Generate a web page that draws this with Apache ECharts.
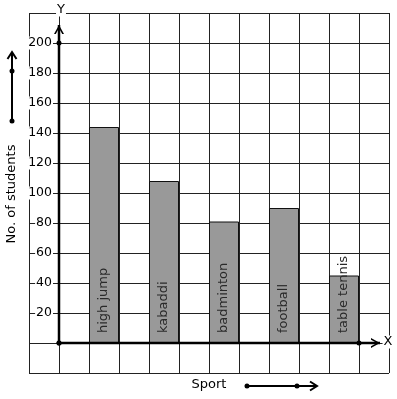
<!DOCTYPE html>
<html lang="en">
<head>
<meta charset="UTF-8">
<title>Sport chart</title>
<style type="text/css">
  html, body { margin: 0; padding: 0; background: #fff; }
  #main { width: 397px; height: 399px; }
</style>
<script type="text/javascript" src="https://cdn.jsdelivr.net/npm/echarts@6/dist/echarts.min.js"></script>
</head>
<body>
<div id="main"></div>
<script type="text/javascript">
var sports   = ['high jump', 'kabaddi', 'badminton', 'football', 'table tennis'];
var students = [144, 108, 81, 90, 45];
var yTicks   = [20, 40, 60, 80, 100, 120, 140, 160, 180, 200];

var font = 'DejaVu Sans';
var chevUp    = 'path://M5,0 L10,9 L8.2,9 L5,3.2 L1.8,9 L0,9 Z';
var chevRight = 'path://M0,0 L9,5 L0,10 L0,8.2 L5.8,5 L0,1.8 Z';

var chart = echarts.init(document.getElementById('main'));

// bars sit in every second grid cell, starting at the second cell right of Y
var barData = sports.map(function (name, i) {
    return { name: name, value: [1.5 + 2 * i, students[i]] };
});

chart.setOption({
    animation: false,
    grid: { left: 29, top: 13, width: 360, height: 360, outerBoundsMode: 'none' },
    xAxis: {
        type: 'value', min: -1, max: 11, interval: 1,
        axisLine: { show: false }, axisTick: { show: false }, axisLabel: { show: false },
        splitLine: { show: true, lineStyle: { color: '#222', width: 1 } }
    },
    yAxis: {
        type: 'value', min: -20, max: 220, interval: 20, offset: -24,
        axisLine: { show: false }, axisTick: { show: false },
        splitLine: { show: true, lineStyle: { color: '#222', width: 1 } },
        axisLabel: {
            margin: 0, color: '#000', fontFamily: font, fontSize: 12.5,
            backgroundColor: '#fff', padding: [0, 1, 0, 1],
            formatter: function (v) { return yTicks.indexOf(v) >= 0 ? String(v) : ''; }
        }
    },
    series: [{
        type: 'bar',
        barWidth: 30,
        itemStyle: { color: '#999', borderColor: '#111', borderWidth: 1 },
        label: {
            show: true, position: 'insideBottom', distance: 10, rotate: 90,
            align: 'left', verticalAlign: 'middle',
            formatter: '{b}', color: '#2a2a2a', fontFamily: font, fontSize: 13
        },
        data: barData,
        z: 2
    }, {
        // Y axis with its dots and arrow head
        type: 'line', clip: false, z: 4, silent: true,
        lineStyle: { color: '#000', width: 2.5 }, itemStyle: { color: '#000' },
        symbol: 'circle', symbolSize: 5,
        data: [
            { value: [0, 0] },
            { value: [0, 200] },
            { value: [0, 212], symbol: chevUp, symbolSize: [10, 9], symbolOffset: [0, '50%'] }
        ]
    }, {
        // X axis with its dots and arrow head
        type: 'line', clip: false, z: 4, silent: true,
        lineStyle: { color: '#000', width: 2.5 }, itemStyle: { color: '#000' },
        symbol: 'circle', symbolSize: 5,
        data: [
            { value: [0, 0] },
            { value: [10, 0] },
            { value: [10.7, 0], symbol: chevRight, symbolSize: [9, 10], symbolOffset: ['-50%', 0] }
        ]
    }],
    graphic: [
        { type: 'text', x: 61, y: 10, z: 10, style: { text: 'Y', font: '13px ' + font, fill: '#000', align: 'center', verticalAlign: 'middle', backgroundColor: '#fff', padding: [0, 1] } },
        { type: 'text', x: 388, y: 342, z: 10, style: { text: 'X', font: '13px ' + font, fill: '#000', align: 'center', verticalAlign: 'middle', backgroundColor: '#fff', padding: [0, 1] } },
        { type: 'text', x: 12, y: 194, rotation: Math.PI / 2, style: { text: 'No. of students', font: '13px ' + font, fill: '#000', align: 'center', verticalAlign: 'middle' } },
        { type: 'text', x: 209, y: 385, style: { text: 'Sport', font: '13px ' + font, fill: '#000', align: 'center', verticalAlign: 'middle' } },
        // left decorative arrow
        { type: 'line', shape: { x1: 12, y1: 121, x2: 12, y2: 53 }, style: { stroke: '#000', lineWidth: 2 } },
        { type: 'polyline', shape: { points: [[7.5, 59], [12, 52], [16.5, 59]] }, style: { stroke: '#000', lineWidth: 2, fill: null } },
        { type: 'circle', shape: { cx: 12, cy: 121, r: 2.5 }, style: { fill: '#000' } },
        { type: 'circle', shape: { cx: 12, cy: 71, r: 2.5 }, style: { fill: '#000' } },
        // bottom decorative arrow
        { type: 'line', shape: { x1: 247, y1: 386, x2: 316, y2: 386 }, style: { stroke: '#000', lineWidth: 2 } },
        { type: 'polyline', shape: { points: [[310, 381.5], [317, 386], [310, 390.5]] }, style: { stroke: '#000', lineWidth: 2, fill: null } },
        { type: 'circle', shape: { cx: 247, cy: 386, r: 2.5 }, style: { fill: '#000' } },
        { type: 'circle', shape: { cx: 297, cy: 386, r: 2.5 }, style: { fill: '#000' } }
    ]
});
</script>
</body>
</html>
